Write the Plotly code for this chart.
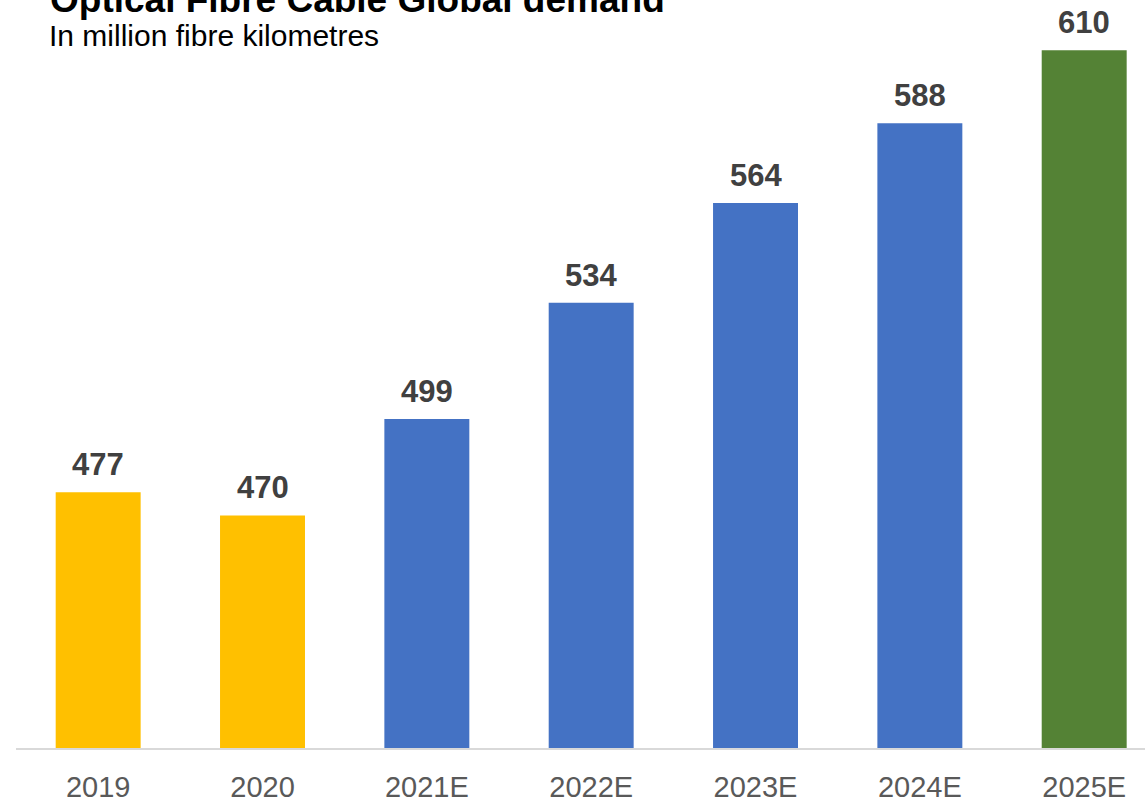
import plotly.graph_objects as go

# Optical fibre cable demand, million fibre-km
years = ["2019", "2020", "2021E", "2022E", "2023E", "2024E", "2025E"]
demand = [477, 470, 499, 534, 564, 588, 610]
bar_colors = ["#FFC000", "#FFC000", "#4472C4", "#4472C4", "#4472C4", "#4472C4", "#548235"]

W, H = 1145, 803
plot_top, plot_bottom = 0, 748
FONT = "Liberation Sans, Arial, sans-serif"

fig = go.Figure(
    go.Bar(
        x=years,
        y=demand,
        marker=dict(color=bar_colors, line=dict(width=0)),
        width=0.517,
        hoverinfo="skip",
    )
)

# value labels above each bar (category index used for x position)
for i, v in enumerate(demand):
    fig.add_annotation(
        x=i, y=v, xref="x", yref="y",
        text=f"<b>{v}</b>", showarrow=False,
        xanchor="center", yanchor="bottom", yshift=8,
        font=dict(family=FONT, size=31, color="#404040"),
    )

def py(px):
    return (plot_bottom - px) / (plot_bottom - plot_top)

fig.add_annotation(
    text="<b>Optical Fibre Cable Global demand</b>",
    xref="paper", yref="paper", x=(48 - 16) / (W - 16), y=py(-1),
    xanchor="left", yanchor="middle", showarrow=False,
    font=dict(family=FONT, size=37, color="#000000"),
)
fig.add_annotation(
    text="In million fibre kilometres",
    xref="paper", yref="paper", x=(47 - 16) / (W - 16), y=py(36),
    xanchor="left", yanchor="middle", showarrow=False,
    font=dict(family=FONT, size=30, color="#000000"),
)

fig.update_layout(
    width=W, height=H,
    margin=dict(l=16, r=0, t=plot_top, b=H - plot_bottom),
    plot_bgcolor="white", paper_bgcolor="white",
    showlegend=False,
    xaxis=dict(
        type="category",
        range=[-0.5, 6.37],
        automargin=False,
        showgrid=False,
        showline=True, linecolor="#D9D9D9", linewidth=2,
        ticks="",
        ticklabelstandoff=12,
        tickfont=dict(family=FONT, size=29, color="#595959"),
        fixedrange=True,
    ),
    yaxis=dict(
        range=[400, 625.1],
        visible=False,
        automargin=False,
        showgrid=False,
        fixedrange=True,
    ),
)

fig.write_html("out.html")
